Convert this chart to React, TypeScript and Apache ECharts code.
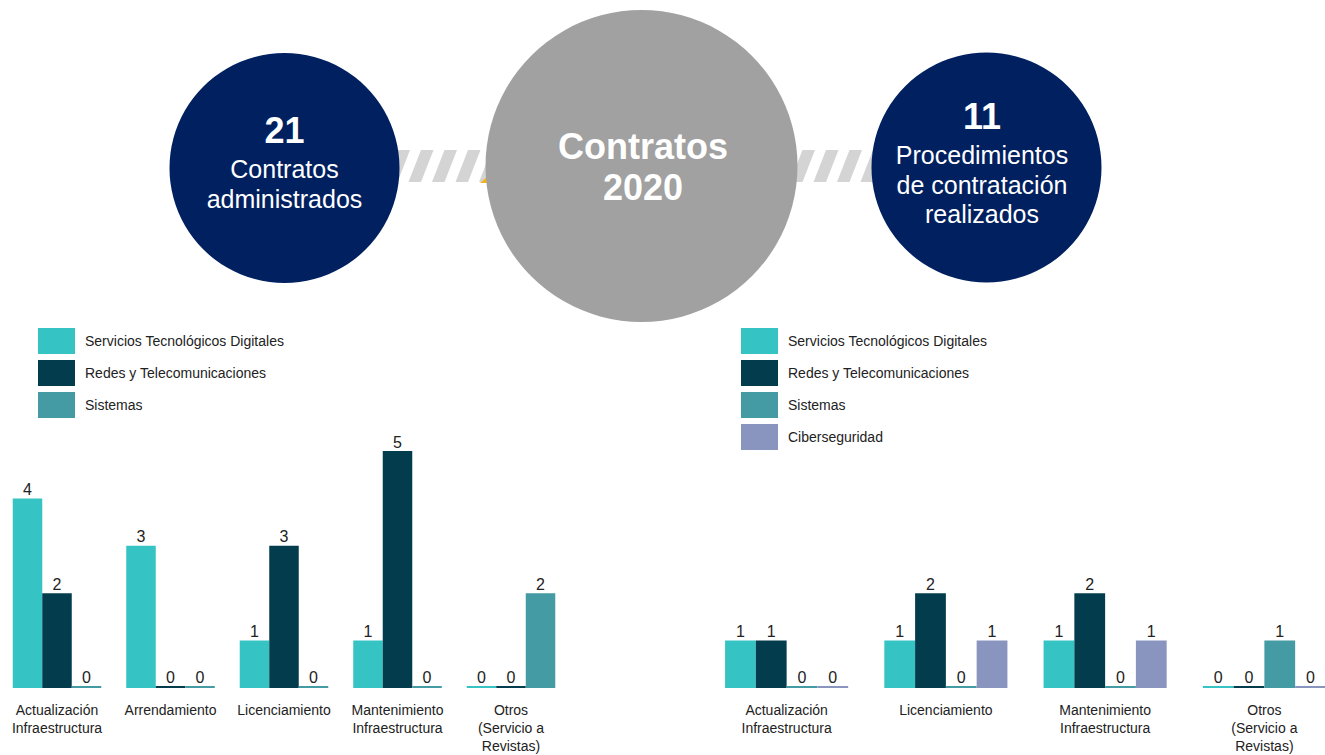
import React, { useEffect, useRef } from "react";
import * as echarts from "echarts";

const seriesNames = [
  "Servicios Tecnológicos Digitales",
  "Redes y Telecomunicaciones",
  "Sistemas",
  "Ciberseguridad",
];
const seriesColors = ["#36C3C3", "#033D4D", "#459BA3", "#8A95BF"];

const leftCategories = [
  "Actualización\nInfraestructura",
  "Arrendamiento",
  "Licenciamiento",
  "Mantenimiento\nInfraestructura",
  "Otros\n(Servicio a\nRevistas)",
];
const leftServicios = [4, 3, 1, 1, 0];
const leftRedes = [2, 0, 3, 5, 0];
const leftSistemas = [0, 0, 0, 0, 2];

const rightCategories = [
  "Actualización\nInfraestructura",
  "Licenciamiento",
  "Mantenimiento\nInfraestructura",
  "Otros\n(Servicio a\nRevistas)",
];
const rightServicios = [1, 1, 1, 0];
const rightRedes = [1, 2, 2, 0];
const rightSistemas = [0, 0, 0, 1];
const rightCiber = [0, 1, 1, 0];

const leftCircleNumber = "21";
const leftCircleText = ["Contratos", "administrados"];
const centerCircleText = ["Contratos", "2020"];
const rightCircleNumber = "11";
const rightCircleText = ["Procedimientos", "de contratación", "realizados"];

const FONT = "'Liberation Sans', Arial, sans-serif";

function stripes(startX: number, count: number) {
  const els: any[] = [];
  for (let i = 0; i < count; i++) {
    const x0 = startX + i * 23.5;
    els.push({
      type: "polygon",
      shape: {
        points: [
          [x0, 182],
          [x0 + 12.5, 182],
          [x0 + 25, 150],
          [x0 + 12.5, 150],
        ],
      },
      style: { fill: "#D4D4D4" },
      z: 1,
    });
  }
  return els;
}

function circleText(cx: number, lines: { t: string; y: number; size: number; bold?: boolean }[]) {
  return lines.map((l) => ({
    type: "text",
    x: cx,
    y: l.y,
    z: 10,
    style: {
      text: l.t,
      fill: "#FFFFFF",
      font: `${l.bold ? "bold " : ""}${l.size}px ${FONT}`,
      align: "center",
      verticalAlign: "middle",
    },
  }));
}

export default function App() {
  const ref = useRef<HTMLDivElement>(null);
  useEffect(() => {
    if (!ref.current) return;
    const chart = echarts.init(ref.current, undefined, { renderer: "svg" });

    const barLabel = {
      show: true,
      position: "top",
      distance: 1,
      color: "#222222",
      fontSize: 16,
      fontFamily: FONT,
    };

    const mkSeries = (name: string, color: string, data: number[], idx: number, gap: string) => ({
      type: "bar",
      name,
      data,
      xAxisIndex: idx,
      yAxisIndex: idx,
      barGap: "0%",
      barCategoryGap: gap,
      barMinHeight: 2,
      itemStyle: { color },
      label: barLabel,
      emphasis: { disabled: true },
    });

    const axisLabel = {
      interval: 0,
      color: "#222222",
      fontSize: 14,
      lineHeight: 18,
      margin: 13,
      fontFamily: FONT,
    };

    const xAxisBase = {
      type: "category",
      axisLine: { show: false },
      axisTick: { show: false },
      splitLine: { show: false },
      axisLabel,
    };

    const yAxisBase = {
      type: "value",
      min: 0,
      max: 5,
      show: false,
      splitLine: { show: false },
    };

    const legendBase = {
      orient: "vertical",
      top: 328,
      padding: 0,
      icon: "rect",
      itemWidth: 37,
      itemHeight: 26,
      itemGap: 6,
      selectedMode: false,
      itemStyle: { borderWidth: 0 },
      textStyle: {
        color: "#222222",
        fontSize: 14,
        fontFamily: FONT,
        padding: [0, 0, 0, 5],
      },
    };

    const graphic: any[] = [
      ...stripes(385, 5),
      {
        type: "polygon",
        shape: { points: [[480, 183], [488, 183], [488, 176]] },
        style: { fill: "#F0B323" },
        z: 2,
      },
      ...stripes(790, 4),
      {
        type: "circle",
        shape: { cx: 284.5, cy: 168, r: 115 },
        style: { fill: "#002060" },
        z: 5,
      },
      {
        type: "circle",
        shape: { cx: 641.5, cy: 166, r: 156 },
        style: { fill: "#A0A1A0" },
        z: 5,
      },
      {
        type: "circle",
        shape: { cx: 986.5, cy: 167.5, r: 115 },
        style: { fill: "#002060" },
        z: 5,
      },
      ...circleText(284.5, [
        { t: leftCircleNumber, y: 130, size: 36, bold: true },
        { t: leftCircleText[0], y: 169, size: 25 },
        { t: leftCircleText[1], y: 199, size: 25 },
      ]),
      ...circleText(643, [
        { t: centerCircleText[0], y: 146, size: 36, bold: true },
        { t: centerCircleText[1], y: 187, size: 36, bold: true },
      ]),
      ...circleText(982, [
        { t: rightCircleNumber, y: 116, size: 36, bold: true },
        { t: rightCircleText[0], y: 155, size: 25 },
        { t: rightCircleText[1], y: 185, size: 25 },
        { t: rightCircleText[2], y: 214, size: 25 },
      ]),
    ];

    chart.setOption({
      animation: false,
      backgroundColor: "#FFFFFF",
      legend: [
        { ...legendBase, left: 38, data: seriesNames.slice(0, 3) },
        { ...legendBase, left: 741, data: seriesNames.slice(0, 4) },
      ],
      grid: [
        { left: 0.25, width: 567.5, top: 451, height: 242, containLabel: false },
        { left: 707, width: 637, top: 451, height: 242, containLabel: false },
      ],
      xAxis: [
        { ...xAxisBase, gridIndex: 0, data: leftCategories },
        { ...xAxisBase, gridIndex: 1, data: rightCategories },
      ],
      yAxis: [
        { ...yAxisBase, gridIndex: 0 },
        { ...yAxisBase, gridIndex: 1 },
      ],
      series: [
        mkSeries(seriesNames[0], seriesColors[0], leftServicios, 0, "22%"),
        mkSeries(seriesNames[1], seriesColors[1], leftRedes, 0, "22%"),
        mkSeries(seriesNames[2], seriesColors[2], leftSistemas, 0, "22%"),
        mkSeries(seriesNames[0], seriesColors[0], rightServicios, 1, "22.7%"),
        mkSeries(seriesNames[1], seriesColors[1], rightRedes, 1, "22.7%"),
        mkSeries(seriesNames[2], seriesColors[2], rightSistemas, 1, "22.7%"),
        mkSeries(seriesNames[3], seriesColors[3], rightCiber, 1, "22.7%"),
      ],
      graphic,
    });

    return () => chart.dispose();
  }, []);

  return (
    <div
      ref={ref}
      style={{ position: "fixed", left: 0, top: 0, width: 1350, height: 755, background: "#fff" }}
    />
  );
}
